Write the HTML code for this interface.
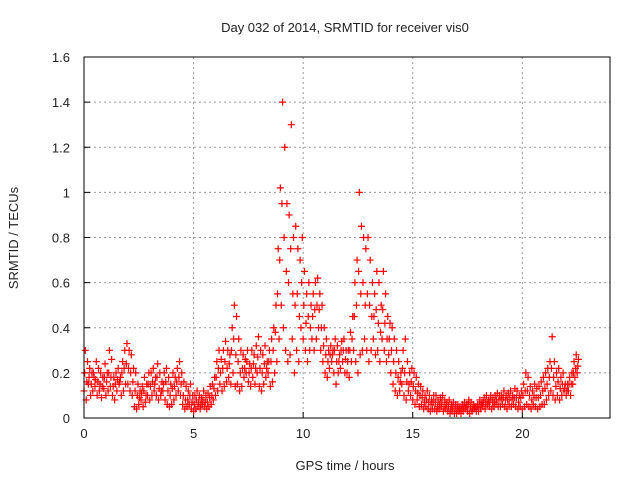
<!DOCTYPE html>
<html><head><meta charset="utf-8"><style>
body{margin:0;background:#fff;}
svg text{font-family:"Liberation Sans",sans-serif;font-size:13px;fill:#222;}
</style></head><body>
<svg id="chart" width="640" height="480">
<text x="345" y="32" text-anchor="middle">Day 032 of 2014, SRMTID for receiver vis0</text>
<text x="345" y="470" text-anchor="middle">GPS time / hours</text>
<text transform="translate(18,238) rotate(-90)" text-anchor="middle">SRMTID / TECUs</text>
<g id="grid"></g><g id="marks"></g>
<rect x="84" y="57" width="526" height="361" fill="none" stroke="#000" stroke-width="1"/>
</svg>
<script>
const xTicks=[0,5,10,15,20];
const yTicks=[0,0.2,0.4,0.6,0.8,1,1.2,1.4,1.6];
const yTickLabels=["0","0.2","0.4","0.6","0.8","1","1.2","1.4","1.6"];
const timeStep=0.1;
const lowValues=[0.12,0.08,0.15,0.1,0.12,0.14,0.1,0.12,0.09,0.13,
0.1,0.12,0.14,0.1,0.08,0.12,0.15,0.1,0.12,0.15,
0.15,0.12,0.1,0.05,0.04,0.06,0.08,0.05,0.07,0.1,
0.08,0.1,0.12,0.1,0.08,0.1,0.12,0.08,0.06,0.05,
0.06,0.08,0.1,0.12,0.1,0.06,0.04,0.05,0.06,0.04,
0.03,0.04,0.05,0.04,0.06,0.05,0.04,0.05,0.06,0.08,
0.1,0.12,0.15,0.12,0.14,0.16,0.18,0.15,0.2,0.14,
0.15,0.12,0.14,0.18,0.2,0.16,0.14,0.18,0.15,0.2,
0.14,0.12,0.15,0.18,0.2,0.14,0.16,0.2,0.25,0.35,
0.5,0.4,0.3,0.25,0.28,0.35,0.2,0.3,0.25,0.4,
0.35,0.3,0.25,0.3,0.35,0.3,0.35,0.4,0.3,0.25,
0.2,0.18,0.22,0.25,0.2,0.15,0.2,0.22,0.25,0.2,
0.2,0.18,0.25,0.3,0.25,0.2,0.28,0.3,0.35,0.3,
0.25,0.3,0.35,0.28,0.3,0.25,0.35,0.3,0.25,0.28,
0.2,0.15,0.12,0.1,0.12,0.15,0.1,0.08,0.12,0.1,
0.08,0.06,0.08,0.05,0.06,0.04,0.05,0.04,0.03,0.04,
0.04,0.03,0.04,0.05,0.03,0.04,0.03,0.02,0.03,0.02,
0.02,0.03,0.02,0.03,0.04,0.03,0.02,0.03,0.04,0.03,
0.03,0.04,0.05,0.04,0.06,0.05,0.04,0.05,0.06,0.05,
0.05,0.06,0.05,0.04,0.06,0.05,0.06,0.05,0.04,0.05,
0.04,0.05,0.06,0.05,0.04,0.06,0.05,0.04,0.05,0.06,
0.06,0.08,0.1,0.12,0.1,0.08,0.1,0.08,0.1,0.12,
0.1,0.12,0.1,0.15,0.18,0.2];
const midValues=[0.2,0.16,0.18,0.15,0.2,0.17,0.16,0.15,0.14,0.18,
0.16,0.2,0.18,0.14,0.15,0.17,0.16,0.2,0.22,0.24,
0.22,0.2,0.16,0.12,0.1,0.09,0.11,0.12,0.1,0.15,
0.14,0.16,0.15,0.18,0.13,0.12,0.15,0.16,0.12,0.1,
0.13,0.14,0.16,0.18,0.15,0.1,0.08,0.08,0.1,0.07,
0.06,0.08,0.07,0.06,0.08,0.07,0.07,0.09,0.1,0.13,
0.18,0.22,0.2,0.22,0.25,0.22,0.24,0.3,0.35,0.28,
0.25,0.2,0.22,0.22,0.25,0.2,0.22,0.24,0.22,0.27,
0.22,0.2,0.24,0.22,0.25,0.25,0.3,0.38,0.55,0.7,
0.95,0.8,0.65,0.6,0.75,0.55,0.5,0.55,0.45,0.6,
0.5,0.42,0.45,0.4,0.45,0.48,0.5,0.48,0.4,0.32,
0.28,0.25,0.28,0.28,0.3,0.25,0.25,0.3,0.3,0.26,
0.25,0.3,0.35,0.45,0.5,0.65,0.55,0.6,0.5,0.55,
0.5,0.45,0.45,0.48,0.42,0.38,0.48,0.42,0.35,0.35,
0.3,0.25,0.2,0.18,0.16,0.22,0.2,0.16,0.15,0.16,
0.14,0.12,0.11,0.1,0.09,0.07,0.08,0.07,0.06,0.07,
0.07,0.05,0.06,0.07,0.05,0.06,0.05,0.04,0.05,0.04,
0.04,0.04,0.04,0.05,0.05,0.06,0.05,0.04,0.05,0.05,
0.06,0.06,0.07,0.07,0.07,0.08,0.07,0.07,0.08,0.08,
0.08,0.09,0.08,0.08,0.09,0.08,0.09,0.09,0.07,0.09,
0.1,0.12,0.12,0.1,0.08,0.1,0.09,0.09,0.1,0.12,
0.13,0.15,0.18,0.22,0.18,0.14,0.16,0.13,0.15,0.13,
0.12,0.15,0.15,0.2,0.22,0.23];
const highValues=[0.3,0.25,0.22,0.2,0.18,0.25,0.22,0.2,0.18,0.24,
0.2,0.3,0.26,0.18,0.2,0.22,0.18,0.25,0.3,0.33,
0.3,0.28,0.22,0.2,0.15,0.12,0.14,0.18,0.15,0.2,
0.2,0.22,0.18,0.24,0.2,0.16,0.2,0.22,0.18,0.15,
0.2,0.18,0.22,0.25,0.2,0.16,0.14,0.12,0.15,0.1,
0.1,0.12,0.1,0.09,0.12,0.1,0.11,0.14,0.15,0.18,
0.25,0.3,0.26,0.3,0.34,0.3,0.28,0.4,0.5,0.45,
0.35,0.3,0.28,0.26,0.3,0.24,0.3,0.28,0.32,0.36,
0.3,0.28,0.32,0.25,0.3,0.35,0.4,0.5,0.75,1.02,
1.4,1.2,0.95,0.9,1.3,0.8,0.85,0.75,0.7,0.8,
0.65,0.55,0.6,0.5,0.55,0.6,0.62,0.55,0.5,0.4,
0.35,0.3,0.32,0.3,0.35,0.32,0.28,0.34,0.35,0.3,
0.3,0.38,0.45,0.6,0.7,1.0,0.85,0.8,0.75,0.8,
0.7,0.6,0.55,0.65,0.6,0.5,0.65,0.55,0.45,0.42,
0.4,0.35,0.3,0.25,0.2,0.3,0.35,0.25,0.2,0.22,
0.2,0.18,0.15,0.14,0.12,0.1,0.12,0.1,0.08,0.1,
0.1,0.08,0.09,0.1,0.08,0.07,0.08,0.06,0.07,0.06,
0.06,0.05,0.06,0.07,0.06,0.08,0.07,0.06,0.05,0.06,
0.08,0.07,0.09,0.1,0.08,0.1,0.09,0.1,0.11,0.1,
0.1,0.12,0.1,0.11,0.12,0.1,0.13,0.12,0.1,0.12,
0.15,0.2,0.18,0.14,0.12,0.15,0.13,0.14,0.16,0.18,
0.2,0.22,0.25,0.36,0.25,0.2,0.22,0.18,0.2,0.15,
0.15,0.18,0.2,0.25,0.28,0.26];
const NS="http://www.w3.org/2000/svg";
const X0=84,X1=610,Y0=418,Y1=57,XMAX=24,YMAX=1.6;
function xs(v){return X0+(X1-X0)*v/XMAX;}
function ys(v){return Y0-(Y0-Y1)*v/YMAX;}
const grid=document.getElementById('grid'),marks=document.getElementById('marks');
function mk(tag,attrs,parent){const e=document.createElementNS(NS,tag);for(const k in attrs)e.setAttribute(k,attrs[k]);parent.appendChild(e);return e;}
xTicks.forEach((t,i)=>{
  const x=xs(t);
  if(i>0){const l=mk('line',{x1:x,x2:x,y1:Y1,y2:Y0,stroke:'#999','stroke-dasharray':'2,3'},grid);
  
  }
  const tk=mk('line',{x1:x,x2:x,y1:Y0,y2:Y0-6,stroke:'#000'},grid);
  
  
  const tx=mk('text',{x:x,y:Y0+20,'text-anchor':'middle'},grid);tx.textContent=t;
  
  
});
yTicks.forEach((t,i)=>{
  const y=ys(t);
  if(i>0&&i<yTicks.length-1){const l=mk('line',{x1:X0,x2:X1,y1:y,y2:y,stroke:'#999','stroke-dasharray':'2,3'},grid);
  
  }
  const tk=mk('line',{x1:X0,x2:X0+6,y1:y,y2:y,stroke:'#000'},grid);
  
  
  const tx=mk('text',{x:X0-14,y:y+5,'text-anchor':'end'},grid);tx.textContent=yTickLabels[i];
  
  
});
function plus(t,v){
  const x=xs(t),y=ys(v);
  const p=mk('path',{d:`M${x-3.5},${y}H${x+3.5}M${x},${y-3.5}V${y+3.5}`,stroke:'#f00','stroke-width':1.2,fill:'none'},marks);
  
  
}
lowValues.forEach((v,i)=>plus(i*timeStep,v));
midValues.forEach((v,i)=>plus(i*timeStep+0.03,v));
highValues.forEach((v,i)=>plus(i*timeStep+0.06,v));
</script>
</body></html>
